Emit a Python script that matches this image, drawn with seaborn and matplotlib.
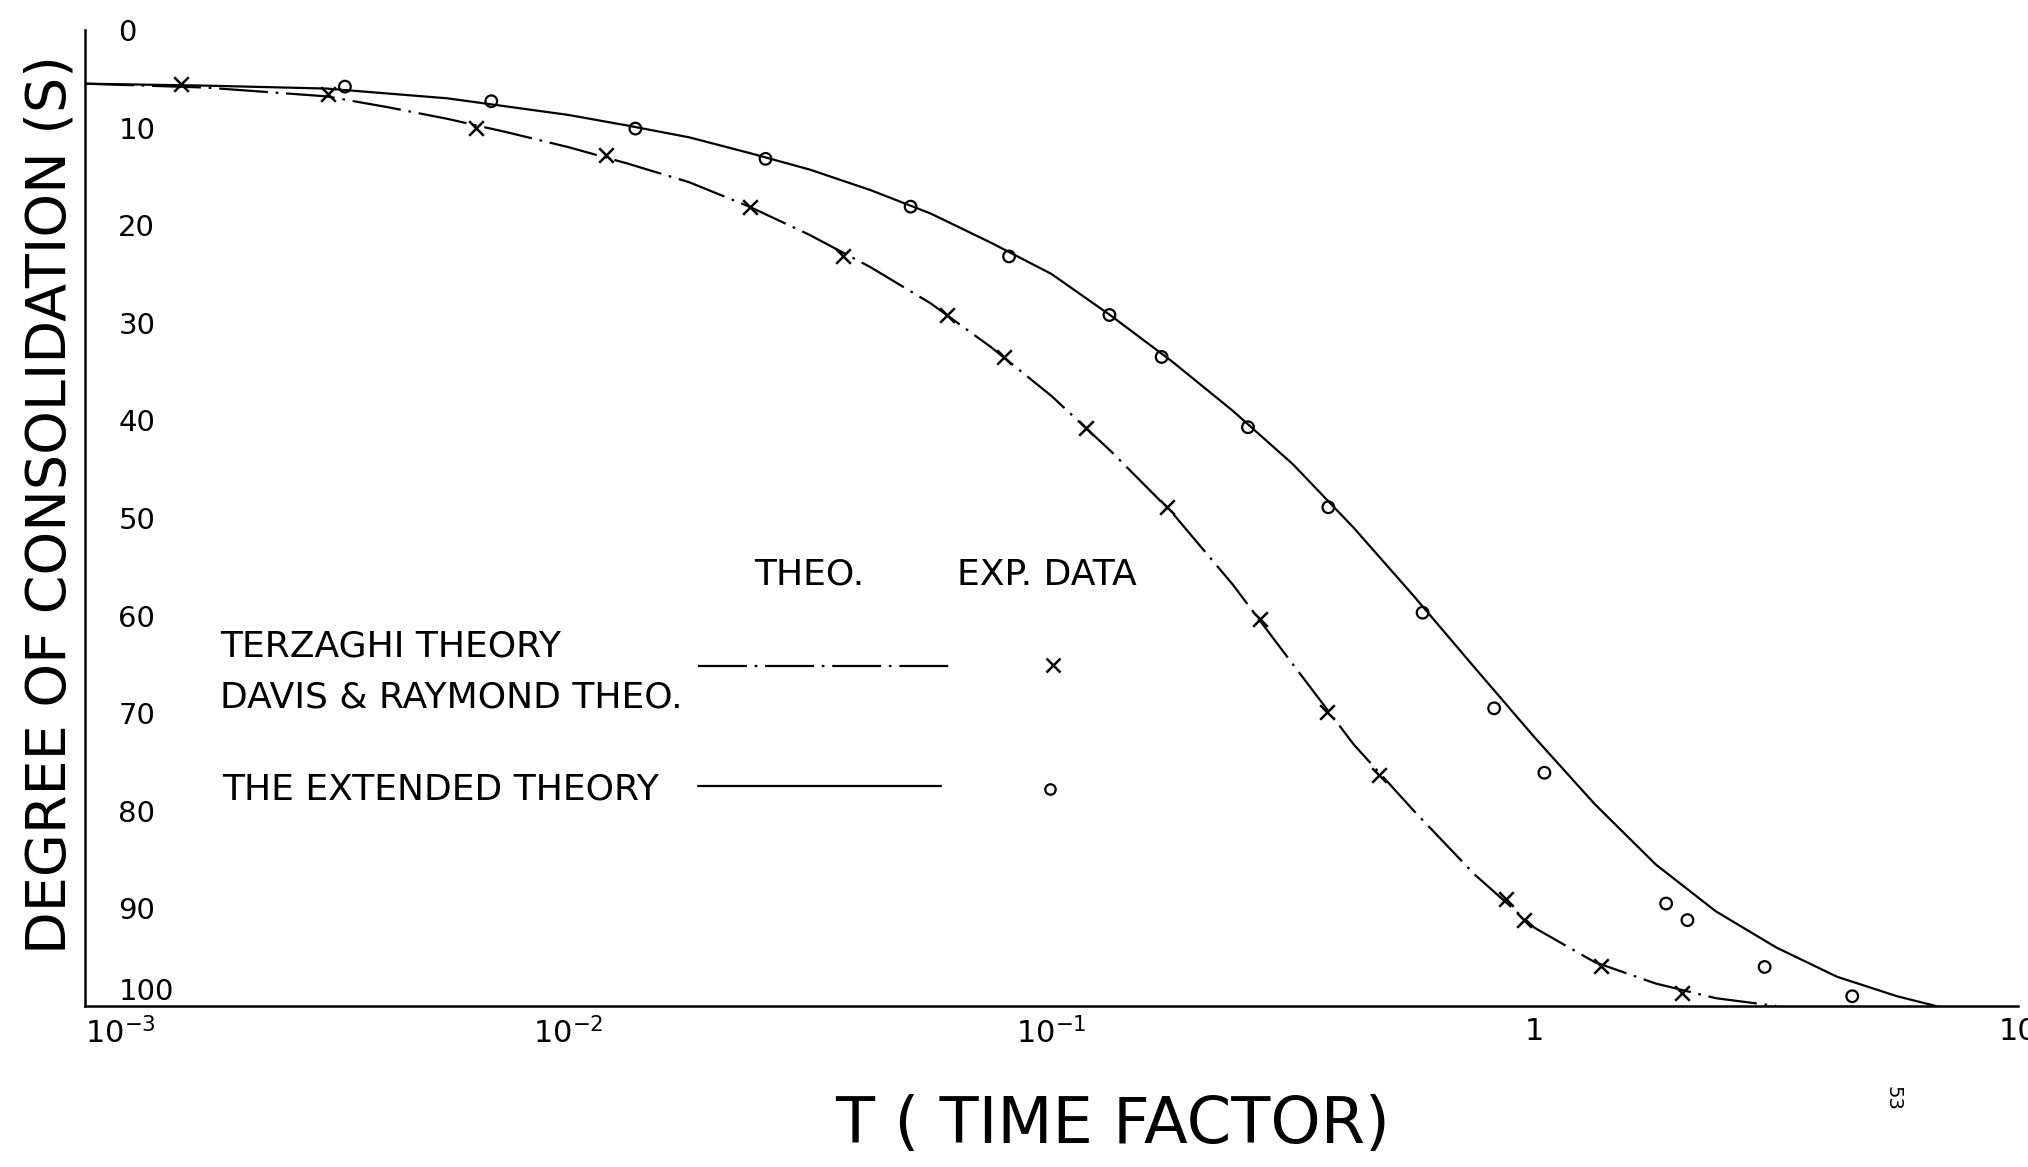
import numpy as np
import pandas as pd
import matplotlib
matplotlib.use("Agg")
import matplotlib.pyplot as plt
import seaborn as sns

# --- data (T = time factor, S = degree of consolidation %) ---
# theoretical curves
t_extended = [0.001, 0.00178, 0.00316, 0.00562, 0.01, 0.0133, 0.0178, 0.0237, 0.0316, 0.0422,
              0.0562, 0.075, 0.1, 0.133, 0.178, 0.237, 0.316, 0.422, 0.562, 0.75,
              1.0, 1.33, 1.78, 2.37, 3.16, 4.22, 5.62, 6.76]
s_extended = [5.5, 5.7, 6.0, 7.0, 8.7, 9.8, 11.0, 12.6, 14.3, 16.4,
              18.8, 21.8, 25.0, 29.3, 34.0, 39.0, 44.5, 51.0, 58.0, 65.3,
              72.5, 79.3, 85.5, 90.3, 94.0, 97.0, 99.0, 100.0]

t_terzaghi = [0.001, 0.00178, 0.00316, 0.00422, 0.00562, 0.0075, 0.01, 0.0133, 0.0178, 0.0237,
              0.0316, 0.0422, 0.0562, 0.075, 0.1, 0.133, 0.178, 0.237, 0.316, 0.422,
              0.562, 0.75, 1.0, 1.33, 1.78, 2.37, 3.16]
s_terzaghi = [5.5, 5.9, 6.8, 7.9, 9.1, 10.5, 12.0, 13.7, 15.6, 18.1,
              21.0, 24.3, 28.0, 32.5, 37.5, 43.2, 49.5, 56.8, 65.0, 73.2,
              80.0, 86.5, 92.0, 95.5, 97.7, 99.2, 100.0]

# experimental points
t_exp_o = [0.00345, 0.00693, 0.01377, 0.0256, 0.0511, 0.0817, 0.1318, 0.169, 0.255,
           0.374, 0.586, 0.824, 1.047, 1.87, 2.07, 2.99, 4.54]
s_exp_o = [5.8, 7.3, 10.1, 13.2, 18.1, 23.2, 29.2, 33.5, 40.7,
           48.9, 59.7, 69.5, 76.1, 89.5, 91.2, 96.0, 99.0]

t_exp_x = [0.00158, 0.00319, 0.00644, 0.01197, 0.0238, 0.0371, 0.0607, 0.0796, 0.118,
           0.173, 0.270, 0.372, 0.475, 0.871, 0.951, 1.368, 2.02]
s_exp_x = [5.5, 6.6, 10.0, 12.8, 18.1, 23.2, 29.2, 33.5, 40.8,
           48.9, 60.3, 69.9, 76.3, 89.0, 91.2, 95.9, 98.7]

x_ticks = [0.001, 0.01, 0.1, 1, 10]
x_tick_labels = ["$10^{-3}$", "$10^{-2}$", "$10^{-1}$", "1", "10"]
y_ticks = [0, 10, 20, 30, 40, 50, 60, 70, 80, 90, 100]

sns.set_style("white")
plt.rcParams["font.family"] = ["DejaVu Sans"]
plt.rcParams["mathtext.fontset"] = "dejavusans"

W, H = 2028, 1167
fig = plt.figure(figsize=(W / 100, H / 100), dpi=100)
ax = fig.add_axes([85 / W, 1 - 1006 / H, 1933 / W, 976 / H])

DASHDOT = (22, 3.5, 1.2, 3.5)

sns.lineplot(x=t_terzaghi, y=s_terzaghi, ax=ax, color="black", lw=1.6,
             estimator=None, dashes=DASHDOT)
sns.lineplot(x=t_extended, y=s_extended, ax=ax, color="black", lw=1.6,
             estimator=None)
sns.scatterplot(x=t_exp_x, y=s_exp_x, ax=ax, marker="x", s=110, color="black",
                linewidth=1.8)
sns.scatterplot(x=t_exp_o, y=s_exp_o, ax=ax, marker="o", s=70, color="black",
                facecolor="none", edgecolor="black", linewidth=1.6)

ax.set_xscale("log")
ax.set_xlim(1e-3, 10)
ax.set_ylim(100, 0)
sns.despine(ax=ax)
for side in ("left", "bottom"):
    ax.spines[side].set_linewidth(1.8)
    ax.spines[side].set_color("black")

ax.set_xticks(x_ticks, labels=x_tick_labels)
ax.xaxis.set_minor_locator(matplotlib.ticker.NullLocator())
ax.tick_params(axis="x", direction="in", length=20, width=1.5, pad=8,
               labelsize=22, colors="black")
ax.get_xticklabels()[0].set_ha("left")
ax.set_yticks(y_ticks, labels=[str(v) for v in y_ticks], ha="left")
ax.tick_params(axis="y", direction="in", length=13, width=1.5, pad=-24,
               labelsize=21, colors="black")
ax.get_yticklabels()[-1].set_va("bottom")
ax.set_xlabel("")
ax.set_ylabel("")

# hand-lettered key inside the plot
tk = dict(transform=ax.transAxes, fontsize=26, color="black", va="center")
ax.text(0.346, 0.442, "THEO.", **tk)
ax.text(0.451, 0.442, "EXP. DATA", **tk)
ax.text(0.070, 0.368, "TERZAGHI THEORY", **tk)
ax.text(0.070, 0.316, "DAVIS & RAYMOND THEO.", **tk)
ax.text(0.071, 0.222, "THE EXTENDED THEORY", **tk)
ax.plot([0.317, 0.448], [0.348, 0.348], transform=ax.transAxes, color="black",
        lw=1.6, dashes=DASHDOT)
ax.plot([0.317, 0.443], [0.225, 0.225], transform=ax.transAxes, color="black", lw=1.6)
ax.plot([0.501], [0.349], transform=ax.transAxes, marker="x", ms=10, mew=1.8,
        color="black", ls="none")
ax.plot([0.499], [0.222], transform=ax.transAxes, marker="o", ms=7.5, mew=1.6,
        mfc="none", mec="black", ls="none")

# axis titles
fig.text(1113 / W, 1 - 1125 / H, "T ( TIME FACTOR)", fontsize=46,
         ha="center", va="center", color="black")
fig.text(51 / W, 1 - 505 / H, "DEGREE OF CONSOLIDATION (S)", fontsize=40,
         rotation=90, ha="center", va="center", color="black")
# page number
fig.text(1893 / W, 1 - 1098 / H, "53", fontsize=14, rotation=-90,
         ha="center", va="center", color="black")

fig.savefig("out.png", dpi=100, facecolor="white")
